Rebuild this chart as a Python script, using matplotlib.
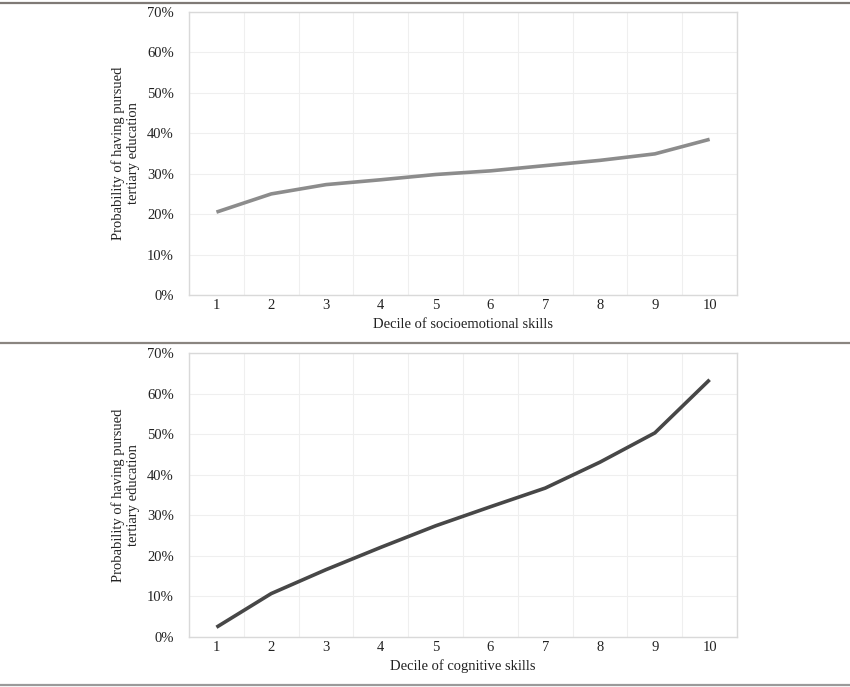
import numpy as np
import matplotlib.pyplot as plt
from matplotlib.lines import Line2D
from matplotlib.ticker import FuncFormatter, MultipleLocator

plt.rcParams['font.family'] = ['Liberation Serif', 'DejaVu Serif']

# deciles and estimated probabilities (%)
deciles = np.arange(1, 11)
socio = [20.5, 25.0, 27.3, 28.5, 29.8, 30.7, 32.0, 33.3, 34.9, 38.5]
cogn = [2.4, 10.7, 16.6, 22.1, 27.4, 32.1, 36.7, 43.1, 50.3, 63.4]

ylab = "Probability of having pursued\ntertiary education"
xlabs = ["Decile of socioemotional skills", "Decile of cognitive skills"]
colors = ["#8c8c8c", "#474747"]

fig = plt.figure(figsize=(8.5, 6.87), dpi=100)

# axes boxes in figure fractions
boxes = [[0.2224, 0.5706, 0.6447, 0.412],
         [0.2224, 0.0728, 0.6447, 0.4134]]

for box, vals, xl, col in zip(boxes, [socio, cogn], xlabs, colors):
    ax = fig.add_axes(box)
    ax.plot(deciles, vals, color=col, lw=2.6, solid_capstyle='butt')
    ax.set_xlim(0.5, 10.5)
    ax.set_ylim(0, 70)
    ax.set_xticks(deciles)
    ax.xaxis.set_minor_locator(MultipleLocator(1, offset=0.5))
    ax.yaxis.set_major_locator(MultipleLocator(10))
    ax.yaxis.set_major_formatter(FuncFormatter(lambda v, p: "%d%%" % v))
    ax.grid(True, which='minor', axis='x', color='#efefef', lw=0.8)
    ax.grid(True, which='major', axis='y', color='#efefef', lw=0.8)
    ax.set_axisbelow(True)
    ax.tick_params(which='both', length=0, labelsize=10.5, colors='#222222')
    ax.tick_params(axis='x', pad=3)
    ax.tick_params(axis='y', pad=11)
    for s in ax.spines.values():
        s.set_color('#d9d9d9')
        s.set_linewidth(1.0)
    ax.set_xlabel(xl, fontsize=10.5, color='#222222', labelpad=4)
    ax.set_ylabel(ylab, fontsize=10.5, color='#222222', labelpad=5,
                  linespacing=1.2)

# horizontal separator rules
for y, c in [(0.9956, '#7f7a76'), (0.5007, '#8a8580'), (0.003, '#9a9a9a')]:
    fig.add_artist(Line2D([0.0, 1.0], [y, y], transform=fig.transFigure,
                          color=c, lw=1.6))

fig.savefig("out.png", dpi=100)
